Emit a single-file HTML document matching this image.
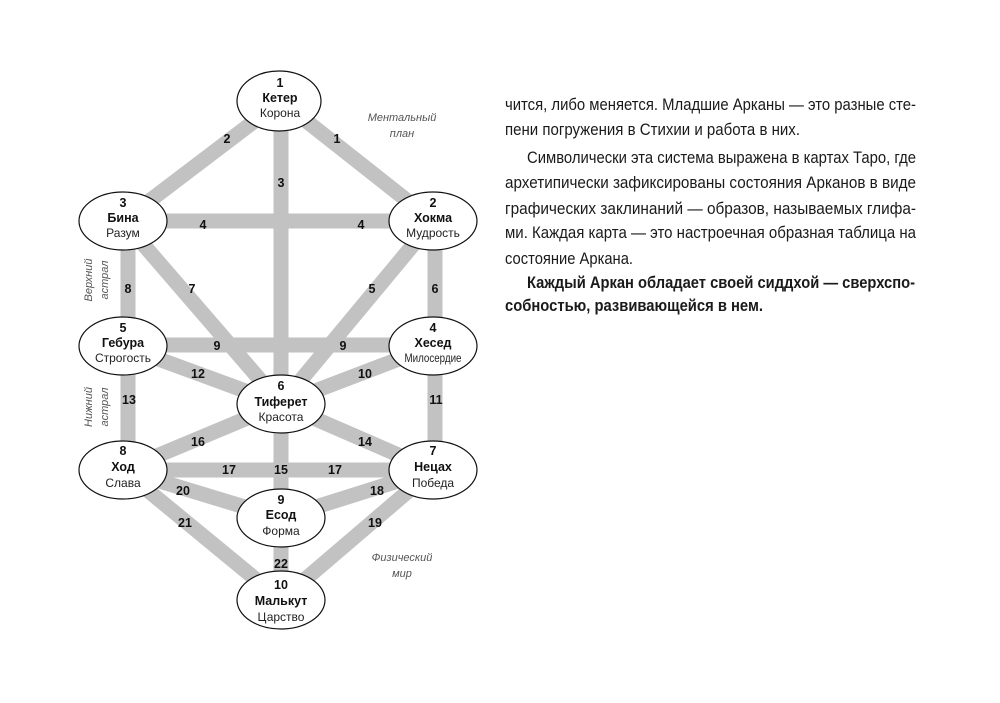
<!DOCTYPE html>
<html><head><meta charset="utf-8"><style>
html,body{margin:0;padding:0;background:#fff;}
svg{display:block;}
.n{font-family:"Liberation Sans",sans-serif;font-weight:bold;font-size:12.5px;fill:#111;text-anchor:middle;}
.s{font-family:"Liberation Sans",sans-serif;font-size:12px;fill:#222;text-anchor:middle;}
.l{font-family:"Liberation Sans",sans-serif;font-weight:bold;font-size:12.5px;fill:#111;text-anchor:middle;}
.i{font-family:"Liberation Sans",sans-serif;font-style:italic;font-size:11px;fill:#555;text-anchor:middle;}
.t{font-family:"Liberation Sans",sans-serif;font-size:17px;fill:#1a1a1a;}
.tb{font-family:"Liberation Sans",sans-serif;font-size:17px;font-weight:bold;fill:#1a1a1a;}
</style></head><body>
<svg width="1000" height="703" viewBox="0 0 1000 703" xmlns="http://www.w3.org/2000/svg">
<g stroke="#c2c2c2" stroke-width="15" fill="none">
<line x1="281" y1="101" x2="123" y2="221"/>
<line x1="281" y1="101" x2="433" y2="221"/>
<line x1="281" y1="101" x2="281" y2="518"/>
<line x1="123" y1="221" x2="433" y2="221"/>
<line x1="128" y1="221" x2="128" y2="470"/>
<line x1="435" y1="221" x2="435" y2="470"/>
<line x1="123" y1="221" x2="281" y2="404"/>
<line x1="433" y1="221" x2="281" y2="404"/>
<line x1="123" y1="345" x2="433" y2="345"/>
<line x1="123" y1="346" x2="281" y2="404"/>
<line x1="433" y1="346" x2="281" y2="404"/>
<line x1="281" y1="404" x2="123" y2="470"/>
<line x1="281" y1="404" x2="433" y2="470"/>
<line x1="123" y1="470" x2="433" y2="470"/>
<line x1="123" y1="470" x2="281" y2="518"/>
<line x1="433" y1="470" x2="281" y2="518"/>
<line x1="123" y1="470" x2="281" y2="600"/>
<line x1="433" y1="470" x2="281" y2="600"/>
<line x1="281" y1="518" x2="281" y2="600"/>
</g>
<g fill="#fff" stroke="#111" stroke-width="1.2">
<ellipse cx="279" cy="101" rx="42" ry="30"/>
<ellipse cx="123" cy="221" rx="44" ry="29"/>
<ellipse cx="433" cy="221" rx="44" ry="29"/>
<ellipse cx="123" cy="346" rx="44" ry="29"/>
<ellipse cx="433" cy="346" rx="44" ry="29"/>
<ellipse cx="281" cy="404" rx="44" ry="29"/>
<ellipse cx="123" cy="470" rx="44" ry="29"/>
<ellipse cx="433" cy="470" rx="44" ry="29"/>
<ellipse cx="281" cy="518" rx="44" ry="29"/>
<ellipse cx="281" cy="600" rx="44" ry="29"/>
</g>
<g>
<text class="n" x="280" y="87">1</text><text class="n" x="280" y="102">Кетер</text><text class="s" x="280" y="117">Корона</text>
<text class="n" x="123" y="207">3</text><text class="n" x="123" y="222">Бина</text><text class="s" x="123" y="237">Разум</text>
<text class="n" x="433" y="207">2</text><text class="n" x="433" y="222">Хокма</text><text class="s" x="433" y="237">Мудрость</text>
<text class="n" x="123" y="332">5</text><text class="n" x="123" y="347">Гебура</text><text class="s" x="123" y="362">Строгость</text>
<text class="n" x="433" y="332">4</text><text class="n" x="433" y="347">Хесед</text><text class="s" x="433" y="362" textLength="57" lengthAdjust="spacingAndGlyphs">Милосердие</text>
<text class="n" x="281" y="390">6</text><text class="n" x="281" y="406">Тиферет</text><text class="s" x="281" y="421">Красота</text>
<text class="n" x="123" y="455">8</text><text class="n" x="123" y="471">Ход</text><text class="s" x="123" y="487">Слава</text>
<text class="n" x="433" y="455">7</text><text class="n" x="433" y="471">Нецах</text><text class="s" x="433" y="487">Победа</text>
<text class="n" x="281" y="504">9</text><text class="n" x="281" y="519">Есод</text><text class="s" x="281" y="535">Форма</text>
<text class="n" x="281" y="589">10</text><text class="n" x="281" y="605">Малькут</text><text class="s" x="281" y="621">Царство</text>
</g>
<g>
<text class="l" x="227" y="143">2</text><text class="l" x="337" y="143">1</text>
<text class="l" x="281" y="187">3</text>
<text class="l" x="203" y="229">4</text><text class="l" x="361" y="229">4</text>
<text class="l" x="128" y="293">8</text><text class="l" x="192" y="293">7</text><text class="l" x="372" y="293">5</text><text class="l" x="435" y="293">6</text>
<text class="l" x="217" y="350">9</text><text class="l" x="343" y="350">9</text>
<text class="l" x="198" y="378">12</text><text class="l" x="365" y="378">10</text>
<text class="l" x="129" y="404">13</text><text class="l" x="436" y="404">11</text>
<text class="l" x="198" y="446">16</text><text class="l" x="365" y="446">14</text>
<text class="l" x="229" y="474">17</text><text class="l" x="281" y="474">15</text><text class="l" x="335" y="474">17</text>
<text class="l" x="183" y="495">20</text><text class="l" x="377" y="495">18</text>
<text class="l" x="185" y="527">21</text><text class="l" x="375" y="527">19</text>
<text class="l" x="281" y="568">22</text>
</g>
<g>
<text class="i" x="402" y="121">Ментальный</text><text class="i" x="402" y="137">план</text>
<text class="i" x="402" y="561">Физический</text><text class="i" x="402" y="577">мир</text>
<text class="i" transform="translate(92,280) rotate(-90)">Верхний</text>
<text class="i" transform="translate(108,280) rotate(-90)">астрал</text>
<text class="i" transform="translate(92,407) rotate(-90)">Нижний</text>
<text class="i" transform="translate(108,407) rotate(-90)">астрал</text>
</g>
<g>
<text class="t" x="505" y="110" textLength="411" lengthAdjust="spacingAndGlyphs">чится, либо меняется. Младшие Арканы — это разные сте-</text>
<text class="t" x="505" y="135" textLength="295" lengthAdjust="spacingAndGlyphs">пени погружения в Стихии и работа в них.</text>
<text class="t" x="527" y="163" textLength="389" lengthAdjust="spacingAndGlyphs">Символически эта система выражена в картах Таро, где</text>
<text class="t" x="505" y="188" textLength="411" lengthAdjust="spacingAndGlyphs">архетипически зафиксированы состояния Арканов в виде</text>
<text class="t" x="505" y="214" textLength="411" lengthAdjust="spacingAndGlyphs">графических заклинаний — образов, называемых глифа-</text>
<text class="t" x="505" y="238" textLength="411" lengthAdjust="spacingAndGlyphs">ми. Каждая карта — это настроечная образная таблица на</text>
<text class="t" x="505" y="264" textLength="128" lengthAdjust="spacingAndGlyphs">состояние Аркана.</text>
<text class="tb" x="527" y="288" textLength="388" lengthAdjust="spacingAndGlyphs">Каждый Аркан обладает своей сиддхой — сверхспо-</text>
<text class="tb" x="505" y="311" textLength="258" lengthAdjust="spacingAndGlyphs">собностью, развивающейся в нем.</text>
</g>
</svg>
</body></html>
